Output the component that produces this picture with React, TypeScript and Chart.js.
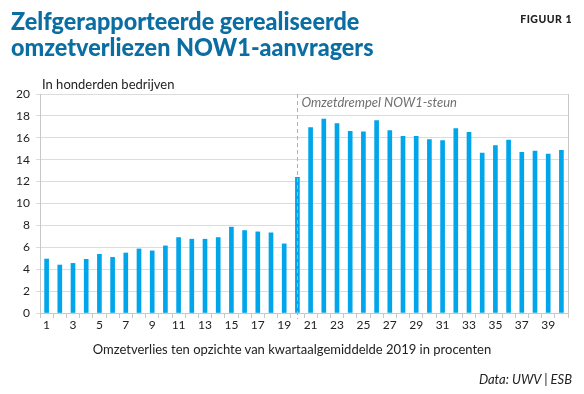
import React, { useEffect, useRef } from "react";
import { Chart, registerables } from "chart.js";

Chart.register(...registerables);

const categories: string[] = Array.from({ length: 40 }, (_, i) => String(i + 1));
const values: number[] = [
  4.93, 4.38, 4.53, 4.9, 5.36, 5.08, 5.48, 5.85, 5.67, 6.13,
  6.89, 6.74, 6.74, 6.89, 7.84, 7.53, 7.41, 7.32, 6.31, 12.4,
  16.94, 17.7, 17.3, 16.6, 16.54, 17.58, 16.66, 16.14, 16.14, 15.83,
  15.74, 16.85, 16.5, 14.6, 15.28, 15.8, 14.67, 14.79, 14.52, 14.85,
];
const thresholdCategory = "20";
const yMax = 20;
const yStep = 2;

const TITLE1 = "Zelfgerapporteerde gerealiseerde";
const TITLE2 = "omzetverliezen NOW1-aanvragers";
const FIG = "FIGUUR 1";
const UNIT = "In honderden bedrijven";
const XTITLE = "Omzetverlies ten opzichte van kwartaalgemiddelde 2019 in procenten";
const SOURCE = "Data: UWV | ESB";
const ANNOT = "Omzetdrempel NOW1-steun";

const FONT = "Lato, 'Open Sans', sans-serif";

export default function App() {
  const ref = useRef<HTMLCanvasElement | null>(null);

  useEffect(() => {
    document.body.style.margin = "0";
    const canvas = ref.current;
    if (!canvas) return;
    const overlay = {
      id: "overlay",
      afterDraw(chart: any) {
        const { ctx, chartArea } = chart;
        const xs = chart.scales.x;
        const ys = chart.scales.y;
        ctx.save();
        ctx.strokeStyle = "#c8c8c8";
        ctx.lineWidth = 1;
        ctx.beginPath();
        ctx.moveTo(Math.round(chartArea.right) + 0.5, chartArea.top);
        ctx.lineTo(Math.round(chartArea.right) + 0.5, chartArea.bottom);
        ctx.stroke();
        const idx = categories.indexOf(thresholdCategory);
        const x = Math.round(xs.getPixelForValue(idx)) + 0.5;
        ctx.strokeStyle = "#b0b0b0";
        ctx.setLineDash([4, 3]);
        ctx.beginPath();
        ctx.moveTo(x, ys.getPixelForValue(yMax));
        ctx.lineTo(x, chartArea.bottom + 6);
        ctx.stroke();
        ctx.setLineDash([]);
        ctx.fillStyle = "#6f6f6f";
        ctx.font = "italic 13px " + FONT;
        ctx.textBaseline = "middle";
        ctx.textAlign = "left";
        ctx.fillText(ANNOT, x + 4, chartArea.top + 9);
        ctx.restore();
      },
    };
    const chart = new Chart(canvas, {
      type: "bar",
      data: {
        labels: categories,
        datasets: [
          {
            data: values,
            backgroundColor: "#00a5ea",
            barThickness: 4,
          },
        ],
      },
      options: {
        animation: false,
        responsive: false,
        maintainAspectRatio: false,
        layout: { padding: { top: 94, right: 16, left: 0, bottom: 0 } },
        plugins: { legend: { display: false }, tooltip: { enabled: false } },
        scales: {
          x: {
            offset: true,
            grid: {
              offset: true,
              drawOnChartArea: false,
              drawTicks: true,
              tickLength: 5,
              color: "#c8c8c8",
            },
            border: { color: "#c8c8c8" },
            ticks: {
              autoSkip: false,
              maxRotation: 0,
              padding: 0,
              color: "#222",
              font: { size: 12, family: FONT },
              callback: (_v: any, i: number) => (i % 2 === 0 ? categories[i] : ""),
            },
            afterFit: (s: any) => {
              s.height = 394 - 313;
            },
          },
          y: {
            min: 0,
            max: yMax,
            grid: { color: "#dcdcdc", drawTicks: true, tickLength: 4 },
            border: { color: "#c8c8c8" },
            ticks: {
              stepSize: yStep,
              padding: 6,
              color: "#222",
              font: { size: 12, family: FONT },
            },
            afterFit: (s: any) => {
              s.width = 40;
            },
          },
        },
      },
      plugins: [overlay],
    });
    return () => chart.destroy();
  }, []);

  const abs = (style: React.CSSProperties): React.CSSProperties => ({
    position: "absolute",
    whiteSpace: "nowrap",
    fontFamily: FONT,
    ...style,
  });

  return (
    <div style={{ position: "fixed", left: 0, top: 0, width: 584, height: 394, background: "#fff" }}>
      <canvas ref={ref} width={584} height={394} style={{ position: "absolute", left: 0, top: 0 }} />
      <div
        style={abs({
          left: 11,
          top: 7,
          fontSize: 25,
          fontWeight: 900,
          color: "#0b6ea3",
          lineHeight: "26px",
          transform: "scaleX(0.935)",
          transformOrigin: "left top",
        })}
      >
        {TITLE1}
        <br />
        {TITLE2}
      </div>
      <div style={abs({ right: 12, top: 13, fontSize: 10.5, fontWeight: 900, color: "#222", letterSpacing: 0.5 })}>{FIG}</div>
      <div style={abs({ left: 42, top: 76, fontSize: 13, color: "#222" })}>{UNIT}</div>
      <div style={abs({ left: 0, width: 584, textAlign: "center", top: 341, fontSize: 13, color: "#222" })}>{XTITLE}</div>
      <div style={abs({ right: 12, top: 371, fontSize: 13, fontStyle: "italic", color: "#222" })}>{SOURCE}</div>
    </div>
  );
}
